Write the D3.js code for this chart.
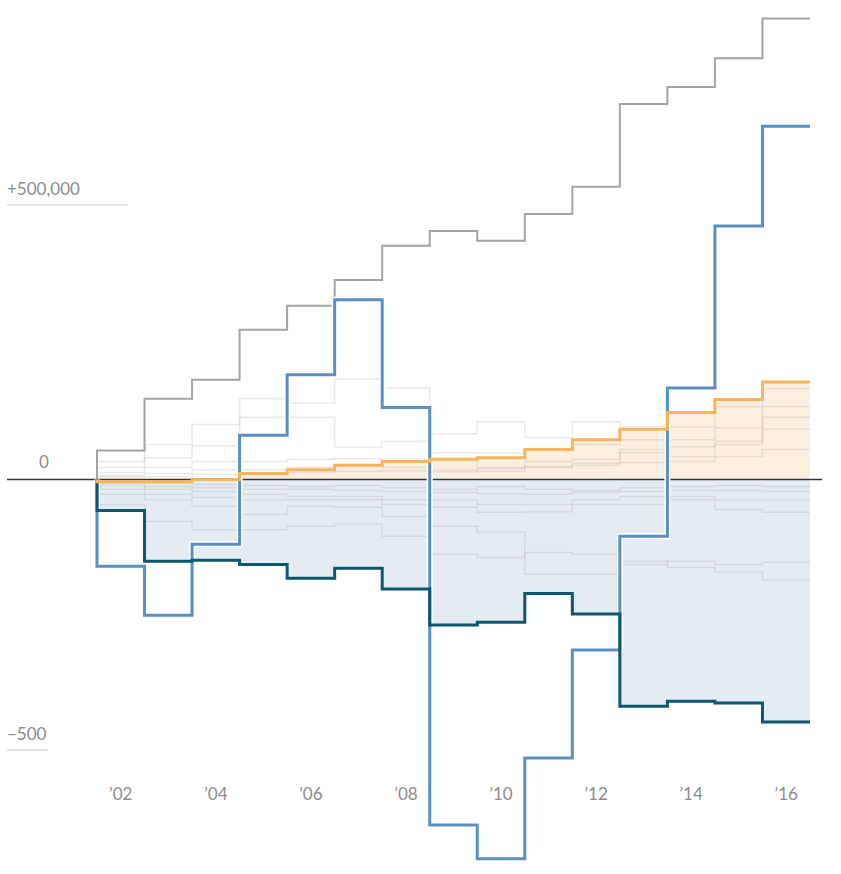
<!DOCTYPE html>
<html>
<head>
<meta charset="utf-8">
<script src="https://cdn.jsdelivr.net/npm/d3@7"></script>
<style>
  html, body { margin: 0; padding: 0; background: #fff; }
  svg { display: block; }
  text { font-family: Lato, "Open Sans", sans-serif; font-weight: 400; }
</style>
</head>
<body>
<svg id="chart" width="841" height="874"></svg>
<script>
// ---- DATA (values in thousands) ----
const years = [2002, 2003, 2004, 2005, 2006, 2007, 2008, 2009, 2010, 2011, 2012, 2013, 2014, 2015, 2016];
const yearLabels = ["\u201902", "\u201904", "\u201906", "\u201908", "\u201910", "\u201912", "\u201914", "\u201916"];
const labelYears = [2002, 2004, 2006, 2008, 2010, 2012, 2014, 2016];

const totalSeries  = [53, 148, 183, 275, 319, 366, 429, 456, 438, 487, 537, 689, 720, 773, 846];
const blueSeries   = [-159, -249, -119, 81, 192, 330, 132, -634, -696, -511, -313, -104, 168, 465, 648];
const tealSeries   = [-57, -150, -148, -156, -181, -163, -201, -267, -262, -209, -247, -416, -407, -410, -445];
const orangeSeries = [-4, -4, 0, 11, 18, 26, 33, 37, 40, 55, 73, 92, 123, 147, 179];

const faintPos1 = [33, 64, 101, 148, 141, 185, 168, 84, 106, 77, 106, 97, 97, 134, 167];
const faintPos2 = [22, 40, 62, 114, 114, 59, 70, 49, 48, 55, 64, 73, 73, 95, 134];
const faintPos3 = [13, 22, 33, 33, 37, 38, 37, 37, 22, 33, 37, 49, 42, 64, 114];
const faintPos4 = [7, 11, 18, 18, 22, 26, 22, 18, 15, 22, 26, 31, 33, 42, 55];
const faintPos5 = [4, 5, 9, 11, 13, 15, 16, 14, 20, 24, 30, 55, 60, 70, 92];
const faintNeg1 = [-46, -77, -92, -92, -86, -82, -104, -137, -143, -134, -137, -150, -161, -170, -185];
const faintNeg2 = [-27, -37, -49, -64, -49, -51, -68, -86, -97, -174, -174, -156, -150, -156, -152];
const faintNeg3 = [-18, -27, -33, -37, -37, -37, -46, -51, -60, -59, -46, -46, -37, -37, -37];
const faintNeg4 = [-11, -13, -15, -18, -18, -20, -22, -24, -26, -27, -24, -22, -20, -20, -22];
const faintNeg5 = [-7, -18, -22, -27, -31, -31, -37, -37, -46, -46, -37, -31, -31, -55, -60];
const faintNeg6 = [-4, -6, -9, -11, -13, -11, -15, -18, -13, -18, -20, -15, -13, -11, -13];

const yTicks = [500, 0, -500];
const yTickLabels = ["+500,000", "0", "\u2212500"];

// ---- SCALES ----
const svg = d3.select("#chart");
const x = d3.scaleLinear().domain([2001.5, 2016.5]).range([97, 810]);
const y = d3.scaleLinear().domain([-500, 500]).range([752, 207]);

function stepPts(vals) {
  const pts = [{x: years[0] - 0.5, v: 0}];
  vals.forEach((v, i) => pts.push({x: years[i] - 0.5, v}));
  pts.push({x: years[years.length - 1] + 0.5, v: vals[vals.length - 1]});
  return pts;
}
const line = d3.line().x(d => x(d.x)).y(d => y(d.v)).curve(d3.curveStepAfter);
const area = d3.area().x(d => x(d.x)).y0(y(0)).y1(d => y(d.v)).curve(d3.curveStepAfter);

// fills
svg.append("path").attr("d", area(stepPts(tealSeries))).attr("fill", "#e5ebf3");
svg.append("path").attr("d", area(stepPts(orangeSeries))).attr("fill", "#fdefe0");

// faint series
[faintPos1, faintPos2, faintPos3, faintPos4, faintPos5,
 faintNeg1, faintNeg2, faintNeg3, faintNeg4, faintNeg5, faintNeg6].forEach(s => {
  svg.append("path").attr("d", line(stepPts(s)))
    .attr("fill", "none").attr("stroke", "#9a9a9a")
    .attr("stroke-opacity", 0.22).attr("stroke-width", 1.5);
});

// y tick labels & underlines
yTicks.forEach((t, i) => {
  if (t === 0) {
    svg.append("text").attr("x", 44).attr("y", y(0) - 12)
      .attr("text-anchor", "middle").attr("font-size", 17).attr("fill", "#8c8c8c")
      .text(yTickLabels[i]);
  } else {
    svg.append("text").attr("x", 7).attr("y", y(t) - 12)
      .attr("font-size", 17).attr("fill", "#8c8c8c").text(yTickLabels[i]);
    const w = t > 0 ? 121 : 41;
    svg.append("line").attr("x1", 7).attr("x2", 7 + w)
      .attr("y1", y(t) - 2).attr("y2", y(t) - 2)
      .attr("stroke", "#e2e2e2").attr("stroke-width", 2);
  }
});

// zero line
svg.append("line").attr("x1", 7).attr("x2", 822).attr("y1", y(0)).attr("y2", y(0))
  .attr("stroke", "#333").attr("stroke-width", 1.5);

// main lines
function drawLine(vals, color, width, halo) {
  const d = line(stepPts(vals));
  if (halo) svg.append("path").attr("d", d).attr("fill", "none")
    .attr("stroke", "#fff").attr("stroke-width", width + 3);
  svg.append("path").attr("d", d).attr("fill", "none")
    .attr("stroke", color).attr("stroke-width", width);
}
drawLine(totalSeries, "#a3a3a3", 2, false);
drawLine(blueSeries, "#5a8fbf", 3, true);
drawLine(tealSeries, "#0e5570", 3, false);
drawLine(orangeSeries, "#f8b459", 3, false);

// x labels
labelYears.forEach((yr, i) => {
  svg.append("text").attr("x", x(yr)).attr("y", 800)
    .attr("text-anchor", "middle").attr("font-size", 17).attr("fill", "#8c8c8c")
    .text(yearLabels[i]);
});
</script>
</body>
</html>
